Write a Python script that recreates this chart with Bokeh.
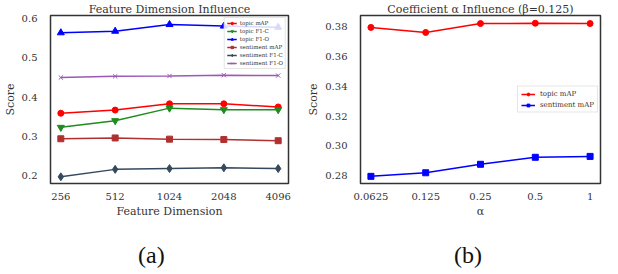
from bokeh.plotting import figure
from bokeh.layouts import row, column
from bokeh.models import Range1d, FixedTicker, Legend, Div
from bokeh.embed import file_html
from bokeh.resources import INLINE

dims = ["256", "512", "1024", "2048", "4096"]
topic_map = [0.359, 0.367, 0.383, 0.383, 0.375]
topic_f1c = [0.323, 0.340, 0.372, 0.368, 0.368]
topic_f1o = [0.564, 0.568, 0.585, 0.581, 0.578]
sent_map = [0.294, 0.296, 0.293, 0.292, 0.289]
sent_f1c = [0.197, 0.216, 0.218, 0.220, 0.218]
sent_f1o = [0.450, 0.453, 0.454, 0.456, 0.455]

alphas = ["0.0625", "0.125", "0.25", "0.5", "1"]
alpha_topic_map = [0.3796, 0.3762, 0.3822, 0.3824, 0.3822]
alpha_sent_map = [0.2796, 0.2820, 0.2877, 0.2924, 0.2930]

captions = ["(a)", "(b)"]

FONT = "DejaVu Serif"
CAP_FONT = "Liberation Serif"
H = 220
HC = 38
WA, WB = 296, 306


def style(p, xlabel):
    p.outline_line_color = "#333333"
    p.outline_line_width = 1.5
    p.xgrid.visible = False
    p.ygrid.visible = False
    for ax in (p.xaxis, p.yaxis):
        ax.axis_line_color = None
        ax.major_tick_line_color = None
        ax.minor_tick_line_color = None
        ax.major_label_text_font = FONT
        ax.major_label_text_font_size = "10px"
        ax.major_label_text_color = "#333333"
        ax.axis_label_text_font = FONT
        ax.axis_label_text_font_size = "11px"
        ax.axis_label_text_font_style = "normal"
        ax.axis_label_text_color = "#333333"
        ax.axis_label_standoff = 2
    p.xaxis.major_label_standoff = 3
    p.yaxis.major_label_standoff = 7
    p.xaxis.axis_label = xlabel
    p.yaxis.axis_label = "Score"
    p.title.text_font = FONT
    p.title.text_font_size = "11px"
    p.title.text_font_style = "normal"
    p.title.text_color = "#333333"
    p.title.align = "center"
    p.title.standoff = 0


# ---------- (a) ----------
pa = figure(width=WA, height=H, output_backend="svg", toolbar_location=None,
            title="Feature Dimension Influence",
            x_range=Range1d(-0.19, len(dims) - 1 + 0.19), y_range=Range1d(0.18, 0.608),
            min_border_left=36, min_border_right=8, min_border_top=2, min_border_bottom=2)
style(pa, "Feature Dimension")
pa.xaxis.ticker = FixedTicker(ticks=list(range(len(dims))))
pa.xaxis.major_label_overrides = {i: d for i, d in enumerate(dims)}
pa.yaxis.ticker = FixedTicker(ticks=[0.2, 0.3, 0.4, 0.5, 0.6])
pa.yaxis.major_label_overrides = {0.2: "0.2", 0.3: "0.3", 0.4: "0.4", 0.5: "0.5", 0.6: "0.6"}

xs = list(range(len(dims)))
series_a = [
    ("topic mAP", topic_map, "#ff0000", "circle", 6),
    ("topic F1-C", topic_f1c, "#1e8c1e", "inverted_triangle", 7),
    ("topic F1-O", topic_f1o, "#0000ff", "triangle", 7),
    ("sentiment mAP", sent_map, "#b03030", "square", 6),
    ("sentiment F1-C", sent_f1c, "#34495e", "diamond", 8),
    ("sentiment F1-O", sent_f1o, "#9b59b6", "x", 6),
]
items = []
for name, ys, col, mk, sz in series_a:
    l = pa.line(xs, ys, line_color=col, line_width=1.5)
    s = pa.scatter(xs, ys, marker=mk, size=sz, fill_color=col, line_color=col)
    items.append((name, [l, s]))
leg = Legend(items=items, location="top_right", label_text_font=FONT,
             label_text_font_size="5.5px", label_text_color="#333333",
             glyph_width=10, glyph_height=6, label_height=6, label_standoff=3,
             spacing=2, padding=2, margin=2, border_line_color="#cccccc",
             background_fill_alpha=0.85)
pa.add_layout(leg)

# ---------- (b) ----------
pb = figure(width=WB, height=H, output_backend="svg", toolbar_location=None,
            title="Coefficient α Influence (β=0.125)",
            x_range=Range1d(-0.19, len(alphas) - 1 + 0.19), y_range=Range1d(0.2748, 0.3876),
            min_border_left=64, min_border_right=2, min_border_top=2, min_border_bottom=2)
style(pb, "α")
pb.xaxis.ticker = FixedTicker(ticks=list(range(len(alphas))))
pb.xaxis.major_label_overrides = {i: a for i, a in enumerate(alphas)}
pb.yaxis.ticker = FixedTicker(ticks=[0.28, 0.30, 0.32, 0.34, 0.36, 0.38])
pb.yaxis.major_label_overrides = {0.28: "0.28", 0.3: "0.30", 0.32: "0.32", 0.34: "0.34",
                                  0.36: "0.36", 0.38: "0.38"}
xb = list(range(len(alphas)))
items_b = []
for name, ys, col, mk, sz in [("topic mAP", alpha_topic_map, "#ff0000", "circle", 6),
                               ("sentiment mAP", alpha_sent_map, "#0000ff", "square", 6)]:
    l = pb.line(xb, ys, line_color=col, line_width=1.5)
    s = pb.scatter(xb, ys, marker=mk, size=sz, fill_color=col, line_color=col)
    items_b.append((name, [l, s]))
legb = Legend(items=items_b, location="center_right", label_text_font=FONT,
              label_text_font_size="7px", label_text_color="#333333",
              glyph_width=14, glyph_height=7, label_height=7, label_standoff=5,
              spacing=3, padding=3, margin=2, border_line_color="#cccccc",
              background_fill_alpha=0.85)
pb.add_layout(legb)

cap_style = ("font-family:'Liberation Serif';font-size:24px;line-height:6px;"
             "color:#111111;text-align:left;padding-top:32px;")
da = Div(text=f'<div style="{cap_style}padding-left:138px;">{captions[0]}</div>',
         width=WA, height=HC, margin=0)
db = Div(text=f'<div style="{cap_style}padding-left:158px;">{captions[1]}</div>',
         width=WB, height=HC, margin=0)

layout = column(row(pa, pb, spacing=0), row(da, db, spacing=0), spacing=0)
open("out.html", "w").write(file_html(layout, INLINE))
